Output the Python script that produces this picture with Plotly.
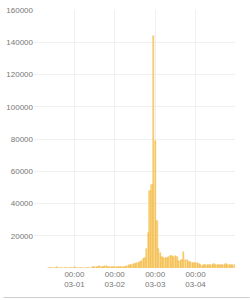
import pandas as pd
import plotly.graph_objects as go

start_time = "2023-02-28 09:00"
values = [
    250, 200, 300, 180, 260, 350, 220, 250, 300, 200, 180, 260, 300, 240, 220, 350,
    260, 200, 180, 250, 300, 220, 260, 240, 200, 300,
    600, 800, 550, 900, 1000, 850, 700, 950, 1100, 900, 750, 600, 550,
    450, 400, 550, 600, 700, 800, 900,
    1000, 1200, 1600, 1800, 2200, 2600, 3000, 3400, 3800, 4400, 5600, 6000,
    11600, 21500, 47600, 51500, 144000, 79000, 29000, 11600, 9000, 7000, 6000,
    6000, 6500, 7000, 7200, 7300, 7000, 7200, 7000, 4500, 4500, 4800, 10000,
    4900, 5000, 3900, 3500, 3300, 3200, 2800, 2800, 2600,
    1600, 1500, 1700, 1600, 1800, 1700, 1600, 1900, 2600, 1700, 1800, 2000,
    1600, 1700, 1900, 2500, 1800, 2100, 2000, 1700, 1600,
]
times = pd.date_range(start_time, periods=len(values), freq="h")

x_ticks = ["2023-03-01", "2023-03-02", "2023-03-03", "2023-03-04"]
x_tick_text = ["00:00<br>03-01", "00:00<br>03-02", "00:00<br>03-03", "00:00<br>03-04"]
y_ticks = [20000, 40000, 60000, 80000, 100000, 120000, 140000, 160000]

fig = go.Figure(go.Bar(
    x=times, y=values,
    width=3600000 * 0.8,
    marker=dict(color="rgba(246,204,96,0.8)", line=dict(color="#f2b53a", width=0.5)),
))

fig.update_layout(
    width=250, height=300,
    margin=dict(l=31, r=15, t=6, b=32),
    plot_bgcolor="white", paper_bgcolor="white",
    font=dict(family="Liberation Sans, Arial, sans-serif", size=8, color="#777777"),
    showlegend=False,
    bargap=0,
    xaxis=dict(
        range=["2023-02-28 00:00", "2023-03-04 23:25"],
        tickvals=x_ticks, ticktext=x_tick_text,
        showgrid=True, gridcolor="#f0f0f0", gridwidth=1,
        showline=False, zeroline=False, ticks="",
        tickfont=dict(size=8, color="#777777"),
    ),
    yaxis=dict(
        range=[0, 160000],
        tickvals=y_ticks, ticktext=[str(v) for v in y_ticks],
        showgrid=True, gridcolor="#f0f0f0", gridwidth=1,
        showline=False, zeroline=False, ticks="",
        tickfont=dict(size=8, color="#777777"),
    ),
    shapes=[dict(
        type="line", xref="paper", yref="paper",
        x0=-31 / 204, x1=219 / 204, y0=-30 / 262, y1=-30 / 262,
        line=dict(color="#cccccc", width=1),
    )],
)

fig.write_html("out.html")
